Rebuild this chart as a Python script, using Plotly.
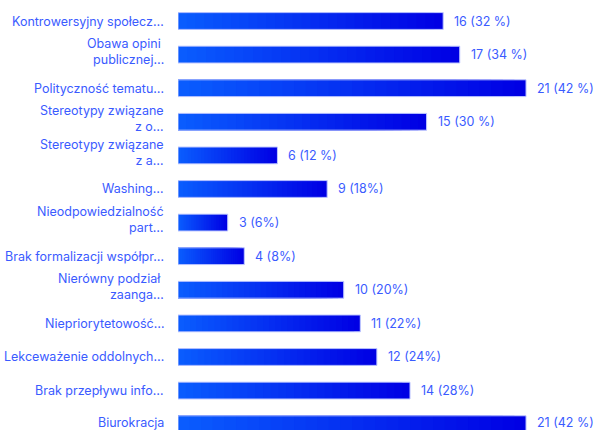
import plotly.graph_objects as go

# Survey answers: barriers to cooperation
categories = [
    "Kontrowersyjny społecz…",
    "Obawa opini <br>publicznej…",
    "Polityczność tematu…",
    "Stereotypy związane<br>z o…",
    "Stereotypy związane<br>z a…",
    "Washing…",
    "Nieodpowiedzialność<br>part…",
    "Brak formalizacji współpr…",
    "Nierówny podział <br>zaanga…",
    "Niepriorytetowość…",
    "Lekceważenie oddolnych…",
    "Brak przepływu info…",
    "Biurokracja",
]
counts = [16, 17, 21, 15, 6, 9, 3, 4, 10, 11, 12, 14, 21]
value_labels = [
    "16 (32 %)", "17 (34 %)", "21 (42 %)", "15 (30 %)", "6 (12 %)",
    "9 (18%)", "3 (6%)", "4 (8%)", "10 (20%)", "11 (22%)", "12 (24%)",
    "14 (28%)", "21 (42 %)",
]

LIGHT = (10, 95, 255)
DARK = (0, 0, 228)
TEXT = "#3a5bff"
FONT = "Inter"
FSIZE = 12.5
STEPS = 30


def mix(t):
    r, g, b = (round(LIGHT[i] + (DARK[i] - LIGHT[i]) * t) for i in range(3))
    return f"rgb({r},{g},{b})"


def label_shift(i, cat):
    # wrapped names sit a bit higher; the bottom row is nudged up to stay on the page
    if "<br>" in cat:
        return 3
    if i == len(categories) - 1:
        return 2
    return 0


fig = go.Figure()

# Horizontal gradient: layered bars from the full length (darkest) down to
# the shortest slice (lightest), each starting at zero.
for k in range(STEPS, 0, -1):
    frac = k / STEPS
    fig.add_trace(go.Bar(
        y=categories,
        x=[c * frac for c in counts],
        base=0,
        orientation="h",
        marker=dict(color=mix(frac), line=dict(width=0)),
        hoverinfo="skip",
        showlegend=False,
    ))

# Thin outline over the whole bar
fig.add_trace(go.Bar(
    y=categories,
    x=counts,
    base=0,
    orientation="h",
    marker=dict(color="rgba(0,0,0,0)", line=dict(color="#bfc8ff", width=1)),
    hovertemplate="%{y}: %{x}<extra></extra>",
    showlegend=False,
))

# Category names, right-aligned next to each bar
for i, cat in enumerate(categories):
    fig.add_annotation(
        x=0, xref="paper", y=cat, text=cat, showarrow=False,
        xanchor="right", yanchor="middle", align="right", xshift=-12,
        yshift=label_shift(i, cat),
        font=dict(family=FONT, size=FSIZE, color=TEXT),
    )

# Value labels at the end of each bar
for i, (cat, cnt, lab) in enumerate(zip(categories, counts, value_labels)):
    fig.add_annotation(
        x=cnt, y=cat, text=lab, showarrow=False,
        xanchor="left", yanchor="middle", xshift=9,
        yshift=2 if i == len(categories) - 1 else 0,
        font=dict(family=FONT, size=FSIZE, color=TEXT),
    )

fig.update_layout(
    width=593, height=430,
    margin=dict(l=178, r=0, t=0, b=0),
    barmode="overlay",
    bargap=0.5,
    plot_bgcolor="white",
    paper_bgcolor="white",
    font=dict(family=FONT, size=FSIZE, color=TEXT),
    xaxis=dict(range=[0, 25.04], visible=False, fixedrange=True),
    yaxis=dict(
        type="category",
        categoryorder="array",
        categoryarray=categories,
        range=[12.173, -0.625],
        showgrid=False,
        zeroline=False,
        showline=False,
        showticklabels=False,
        ticks="",
        automargin=False,
        fixedrange=True,
    ),
)

fig.write_html("out.html")
